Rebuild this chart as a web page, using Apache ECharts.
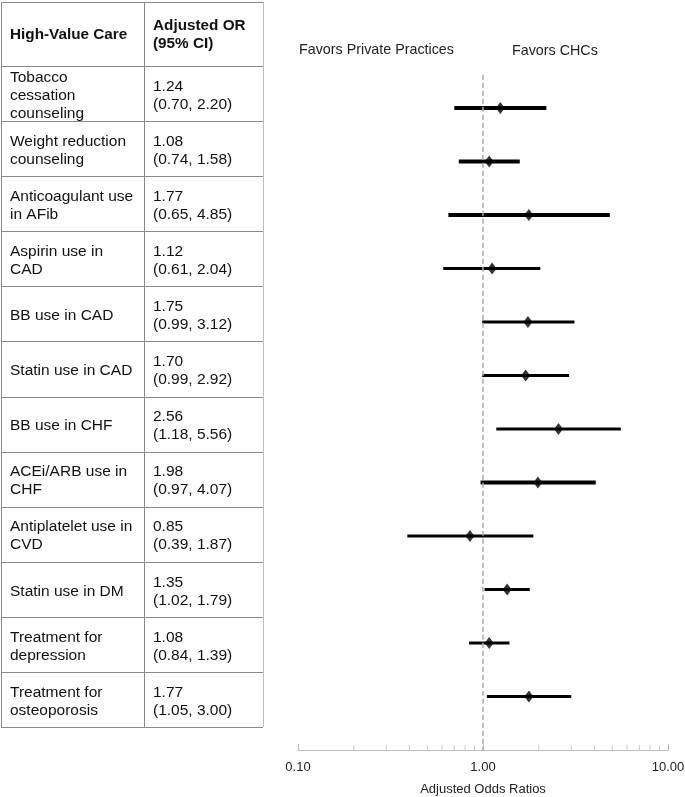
<!DOCTYPE html>
<html>
<head>
<meta charset="utf-8">
<script src="https://cdn.jsdelivr.net/npm/echarts@6/dist/echarts.min.js"></script>
<style>
html,body{margin:0;padding:0;background:#fff;}
#main{width:685px;height:797px;}
</style>
</head>
<body>
<div id="main"></div>
<script>
// ---------- data ----------
const categories = [
  "Tobacco\ncessation\ncounseling",
  "Weight reduction\ncounseling",
  "Anticoagulant use\nin AFib",
  "Aspirin use in\nCAD",
  "BB use in CAD",
  "Statin use in CAD",
  "BB use in CHF",
  "ACEi/ARB use in\nCHF",
  "Antiplatelet use in\nCVD",
  "Statin use in DM",
  "Treatment for\ndepression",
  "Treatment for\nosteoporosis"
];
const oddsRatios = [1.24, 1.08, 1.77, 1.12, 1.75, 1.70, 2.56, 1.98, 0.85, 1.35, 1.08, 1.77];
const ciLower    = [0.70, 0.74, 0.65, 0.61, 0.99, 0.99, 1.18, 0.97, 0.39, 1.02, 0.84, 1.05];
const ciUpper    = [2.20, 1.58, 4.85, 2.04, 3.12, 2.92, 5.56, 4.07, 1.87, 1.79, 1.39, 3.00];
const headers = ["High-Value Care", "Adjusted OR\n(95% CI)"];
const majorTicks = [0.1, 1, 10];
const minorTicks = [0.2, 0.3, 0.4, 0.5, 0.6, 0.7, 0.8, 0.9, 2, 3, 4, 5, 6, 7, 8, 9];
const sideLabels = ["Favors Private Practices", "Favors CHCs"];
const axisTitle = "Adjusted Odds Ratios";

// ---------- styles ----------
const FONT = "'Liberation Sans', Arial, sans-serif";
const rowLineWidths = [3.8, 3.8, 3.8, 2.8, 3.2, 3.2, 3.2, 3.8, 3.2, 3.2, 3.2, 3.2];
const tableLine = '#8a8a8a';

const chart = echarts.init(document.getElementById('main'), null, {renderer: 'canvas'});

const fmt = v => v.toFixed(2);

const ciData = categories.map((c, i) => [ciLower[i], ciUpper[i], i + 1]);
const pointData = categories.map((c, i) => [oddsRatios[i], i + 1]);
const tableData = categories.map((c, i) => [i, c, fmt(oddsRatios[i]) + "\n(" + fmt(ciLower[i]) + ", " + fmt(ciUpper[i]) + ")"]);

function hline(x1, x2, y, color) {
  return {type: 'line', shape: {x1: x1, y1: y, x2: x2, y2: y}, style: {stroke: color, lineWidth: 1}};
}
function vline(x, y1, y2, color) {
  return {type: 'line', shape: {x1: x, y1: y1, x2: x, y2: y2}, style: {stroke: color, lineWidth: 1}};
}

const option = {
  animation: false,
  backgroundColor: '#fff',
  textStyle: {fontFamily: FONT},
  grid: [
    {left: 298, width: 370, top: 54.5, height: 695.5, containLabel: false, outerBoundsMode: 'none'},
    {left: 1, width: 262, top: 2, height: 725, containLabel: false, outerBoundsMode: 'none'}
  ],
  xAxis: [
    {
      type: 'log', logBase: 10, min: 0.1, max: 10, gridIndex: 0, position: 'bottom',
      axisLine: {show: true, onZero: false, lineStyle: {color: '#bdbdbd', width: 1}},
      axisTick: {show: true, inside: true, length: 6, lineStyle: {color: '#bdbdbd'}},
      splitLine: {show: false},
      axisLabel: {formatter: v => fmt(v), color: '#222', fontSize: 13, margin: 11, fontFamily: FONT},
      name: axisTitle, nameLocation: 'middle', nameGap: 33,
      nameTextStyle: {color: '#222', fontSize: 13, fontFamily: FONT}
    },
    {type: 'value', min: 0, max: 262, gridIndex: 1, show: false}
  ],
  yAxis: [
    {type: 'value', min: 0, max: 13, inverse: true, gridIndex: 0, show: false},
    {type: 'value', min: -64 / 55.083, max: 12, inverse: true, gridIndex: 1, show: false}
  ],
  graphic: [
    {type: 'text', left: 299, top: 43, style: {text: sideLabels[0], font: '14.3px ' + FONT, fill: '#222'}},
    {type: 'text', left: 512, top: 44, style: {text: sideLabels[1], font: '14.3px ' + FONT, fill: '#222'}}
  ],
  series: [
    {
      type: 'custom', xAxisIndex: 0, yAxisIndex: 0, silent: true, clip: false,
      data: ciData,
      renderItem: function (params, api) {
        const p1 = api.coord([api.value(0), api.value(2)]);
        const p2 = api.coord([api.value(1), api.value(2)]);
        return {
          type: 'line',
          shape: {x1: p1[0], y1: p1[1], x2: p2[0], y2: p2[1]},
          style: {stroke: '#000', lineWidth: rowLineWidths[params.dataIndex], lineCap: 'butt'}
        };
      },
      markLine: {
        silent: true, symbol: ['none', 'none'], label: {show: false},
        lineStyle: {type: [5, 3], color: '#aaaaaa', width: 1.5},
        data: [[{coord: [1, 0.38]}, {coord: [1, 13]}]]
      },
      z: 3
    },
    {
      type: 'scatter', xAxisIndex: 0, yAxisIndex: 0, silent: true,
      data: pointData, symbol: 'diamond', symbolSize: [9, 12],
      itemStyle: {color: '#000'}, z: 4
    },
    {
      type: 'scatter', xAxisIndex: 0, yAxisIndex: 0, silent: true,
      data: minorTicks.map(v => [v, 13]), symbol: 'rect', symbolSize: [1, 5], symbolOffset: [0, -2.5],
      itemStyle: {color: '#bdbdbd'}, z: 2
    },
    {
      // table header
      type: 'custom', xAxisIndex: 1, yAxisIndex: 1, silent: true, clip: false,
      data: [[-64 / 55.083, 0]],
      renderItem: function (params, api) {
        const tl = api.coord([0, api.value(0)]);
        const br = api.coord([262, api.value(1)]);
        const mid = api.coord([143, 0]);
        const yc = (tl[1] + br[1]) / 2 + 1;
        const t1 = api.coord([9, 0]), t2 = api.coord([152, 0]);
        return {
          type: 'group',
          children: [
            hline(tl[0], br[0], tl[1] + 0.5, tableLine),
            vline(tl[0] + 0.5, tl[1], br[1], tableLine),
            vline(mid[0] + 0.5, tl[1], br[1], tableLine),
            vline(br[0] + 0.5, tl[1], br[1], '#bdbdbd'),
            {type: 'text', x: t1[0], y: yc, style: {text: headers[0], font: 'bold 15.3px ' + FONT, fill: '#111', verticalAlign: 'middle'}},
            {type: 'text', x: t2[0], y: yc, style: {text: headers[1], font: 'bold 15.3px ' + FONT, fill: '#111', verticalAlign: 'middle', lineHeight: 18}}
          ]
        };
      }
    },
    {
      // table body rows
      type: 'custom', xAxisIndex: 1, yAxisIndex: 1, silent: true, clip: false,
      data: tableData,
      renderItem: function (params, api) {
        const i = api.value(0);
        const d = tableData[params.dataIndex];
        const tl = api.coord([0, i]);
        const br = api.coord([262, i + 1]);
        const mid = api.coord([143, i]);
        const yc = (tl[1] + br[1]) / 2 + 2;
        const t1 = api.coord([9, i]), t2 = api.coord([152, i]);
        return {
          type: 'group',
          children: [
            hline(tl[0], br[0], Math.round(tl[1]) + 0.5, tableLine),
            hline(tl[0], br[0], Math.round(br[1]) + 0.5, tableLine),
            vline(tl[0] + 0.5, tl[1], br[1], tableLine),
            vline(mid[0] + 0.5, tl[1], br[1], tableLine),
            vline(br[0] + 0.5, tl[1], br[1], '#bdbdbd'),
            {type: 'text', x: t1[0], y: yc, style: {text: d[1], font: '15.5px ' + FONT, fill: '#111', verticalAlign: 'middle', lineHeight: 18}},
            {type: 'text', x: t2[0], y: yc, style: {text: d[2], font: '15.5px ' + FONT, fill: '#111', verticalAlign: 'middle', lineHeight: 18}}
          ]
        };
      }
    }
  ]
};
chart.setOption(option);
</script>
</body>
</html>
